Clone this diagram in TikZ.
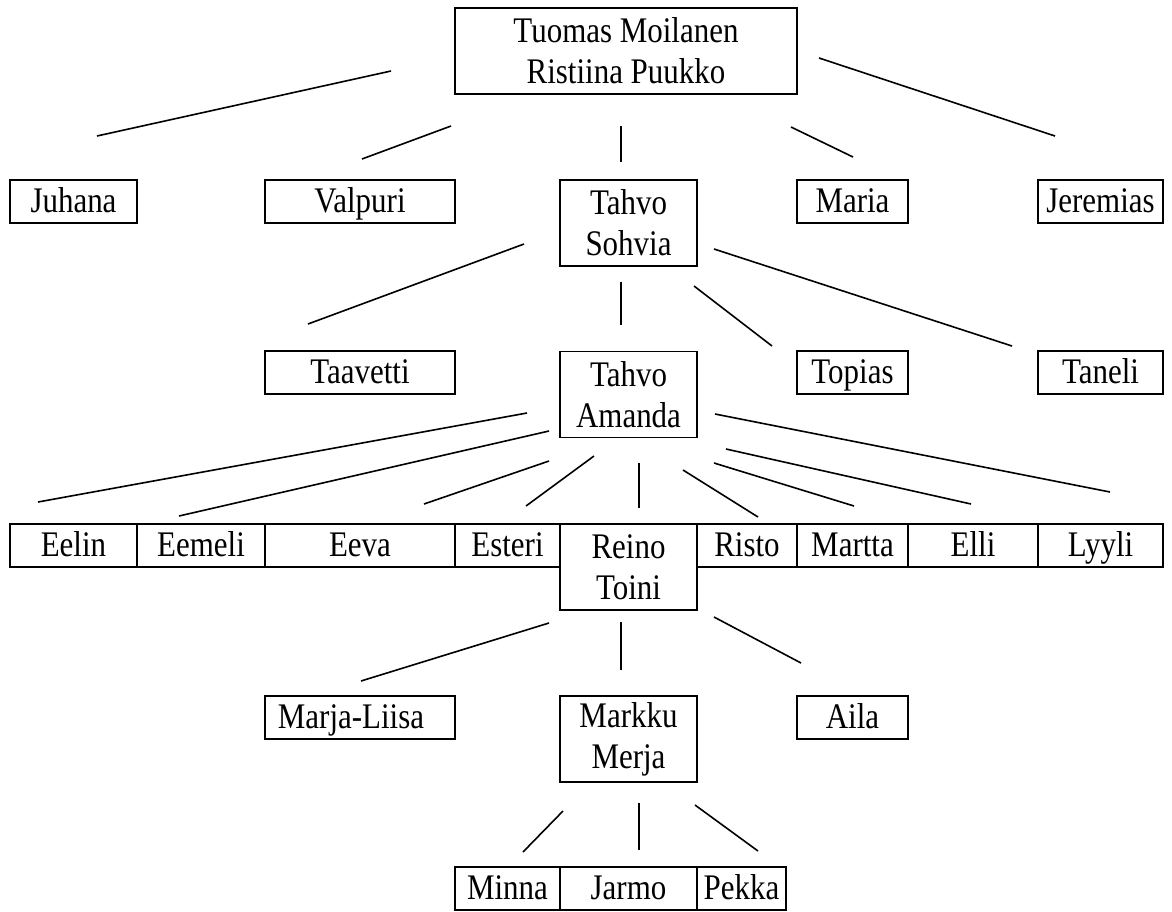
\documentclass[tikz,border=0pt]{standalone}
\usepackage{fontspec}
\setmainfont{Liberation Serif}[FakeStretch=0.86]
\usepackage{tikz}
\tikzset{every picture/.append style={x=1pt, y=-1pt, line width=1.6pt}}
\tikzset{
    person/.style={rectangle, draw, inner sep=0pt, minimum height=43pt,
        font=\fontsize{36}{41}\selectfont, text height=25pt, text depth=4pt},
    couple/.style={rectangle, draw, inner sep=0pt, minimum height=86pt,
        font=\fontsize{36}{41}\selectfont, align=center}
}

\begin{document}
\begin{tikzpicture}
	\useasboundingbox (0,0) rectangle (1172,911);
	% generation 1
	\node (tuomas) [couple, minimum width=342pt] at (626, 51) {Tuomas Moilanen\\Ristiina Puukko};
	% generation 2
	\node (juhana) [person, minimum width=127pt] at (73.5, 201.5) {Juhana};
	\node (valpuri) [person, minimum width=190pt] at (360, 201.5) {Valpuri};
	\node (tahvo) [couple, minimum width=137pt] at (628.5, 223) {Tahvo\\Sohvia};
	\node (maria) [person, minimum width=111pt] at (852.5, 201.5) {Maria};
	\node (jeremias) [person, minimum width=125pt] at (1100.5, 201.5) {Jeremias};
	% generation 3
	\node (taavetti) [person, minimum width=190pt] at (360, 372.5) {Taavetti};
	\node (tahvo2) [couple, minimum width=137pt] at (628.5, 394.5) {Tahvo\\Amanda};
	\node (topias) [person, minimum width=111pt] at (852.5, 372.5) {Topias};
	\node (taneli) [person, minimum width=125pt] at (1100.5, 372.5) {Taneli};
	% generation 4
	\node (eelin) [person, minimum width=127pt] at (73.5, 545.5) {Eelin};
	\node (eemeli) [person, minimum width=128pt] at (201, 545.5) {Eemeli};
	\node (eeva) [person, minimum width=190pt] at (360, 545.5) {Eeva};
	\node (esteri) [person, minimum width=105pt] at (507.5, 545.5) {Esteri};
	\node (reino) [couple, minimum width=137pt] at (628.5, 567) {Reino\\Toini};
	\node (risto) [person, minimum width=100pt] at (747, 545.5) {Risto};
	\node (martta) [person, minimum width=111pt] at (852.5, 545.5) {Martta};
	\node (elli) [person, minimum width=130pt] at (973, 545.5) {Elli};
	\node (lyyli) [person, minimum width=125pt] at (1100.5, 545.5) {Lyyli};
	% generation 5
	\node (marjaliisa) [person, minimum width=190pt] at (360, 717.5) {Marja-Liisa\hspace*{18pt}};
	\node (markku) [couple, minimum width=137pt] at (628.5, 739) {Markku\\Merja};
	\node (aila) [person, minimum width=111pt] at (852.5, 717.5) {Aila};
	% generation 6
	\node (minna) [person, minimum width=105pt] at (507.5, 888.5) {Minna};
	\node (jarmo) [person, minimum width=137pt] at (628.5, 888.5) {Jarmo};
	\node (pekka) [person, minimum width=89pt] at (741.5, 888.5) {Pekka};

	% line ends
	\coordinate (a-juhana) at (391, 71);   \coordinate (b-juhana) at (97, 136);
	\coordinate (a-valpuri) at (451, 126); \coordinate (b-valpuri) at (362, 159);
	\coordinate (a-tahvo) at (621, 126);   \coordinate (b-tahvo) at (621, 162);
	\coordinate (a-maria) at (791, 127);   \coordinate (b-maria) at (853, 157);
	\coordinate (a-jeremias) at (819, 58); \coordinate (b-jeremias) at (1055, 136);

	\coordinate (a-taavetti) at (524, 244); \coordinate (b-taavetti) at (308, 324);
	\coordinate (a-tahvo2) at (621, 282);   \coordinate (b-tahvo2) at (621, 325);
	\coordinate (a-topias) at (694, 286);   \coordinate (b-topias) at (772, 346);
	\coordinate (a-taneli) at (714, 249);   \coordinate (b-taneli) at (1012, 346);

	\coordinate (a-eelin) at (527, 413);  \coordinate (b-eelin) at (38, 502);
	\coordinate (a-eemeli) at (549, 431); \coordinate (b-eemeli) at (179, 516);
	\coordinate (a-eeva) at (549, 461);   \coordinate (b-eeva) at (424, 504);
	\coordinate (a-esteri) at (594, 456); \coordinate (b-esteri) at (526, 506);
	\coordinate (a-reino) at (639, 463);  \coordinate (b-reino) at (639, 508);
	\coordinate (a-risto) at (683, 470);  \coordinate (b-risto) at (758, 517);
	\coordinate (a-martta) at (714, 463); \coordinate (b-martta) at (854, 506);
	\coordinate (a-elli) at (726, 449);   \coordinate (b-elli) at (971, 504);
	\coordinate (a-lyyli) at (715, 414);  \coordinate (b-lyyli) at (1110, 492);

	\coordinate (a-marjaliisa) at (549, 623); \coordinate (b-marjaliisa) at (361, 681);
	\coordinate (a-markku) at (621, 622);     \coordinate (b-markku) at (621, 670);
	\coordinate (a-aila) at (714, 617);       \coordinate (b-aila) at (801, 663);

	\coordinate (a-minna) at (563, 811); \coordinate (b-minna) at (523, 852);
	\coordinate (a-jarmo) at (639, 803); \coordinate (b-jarmo) at (639, 850);
	\coordinate (a-pekka) at (695, 805); \coordinate (b-pekka) at (758, 851);

	\draw (a-juhana) -- (b-juhana); \draw (a-valpuri) -- (b-valpuri); \draw (a-tahvo) -- (b-tahvo);
	\draw (a-maria) -- (b-maria); \draw (a-jeremias) -- (b-jeremias);

	\draw (a-taavetti) -- (b-taavetti); \draw (a-tahvo2) -- (b-tahvo2);
	\draw (a-topias) -- (b-topias); \draw (a-taneli) -- (b-taneli);

	\draw (a-eelin) -- (b-eelin); \draw (a-eemeli) -- (b-eemeli); \draw (a-eeva) -- (b-eeva);
	\draw (a-esteri) -- (b-esteri); \draw (a-reino) -- (b-reino); \draw (a-risto) -- (b-risto);
	\draw (a-martta) -- (b-martta); \draw (a-elli) -- (b-elli); \draw (a-lyyli) -- (b-lyyli);

	\draw (a-marjaliisa) -- (b-marjaliisa); \draw (a-markku) -- (b-markku); \draw (a-aila) -- (b-aila);

	\draw (a-minna) -- (b-minna); \draw (a-jarmo) -- (b-jarmo); \draw (a-pekka) -- (b-pekka);
\end{tikzpicture}
\end{document}
